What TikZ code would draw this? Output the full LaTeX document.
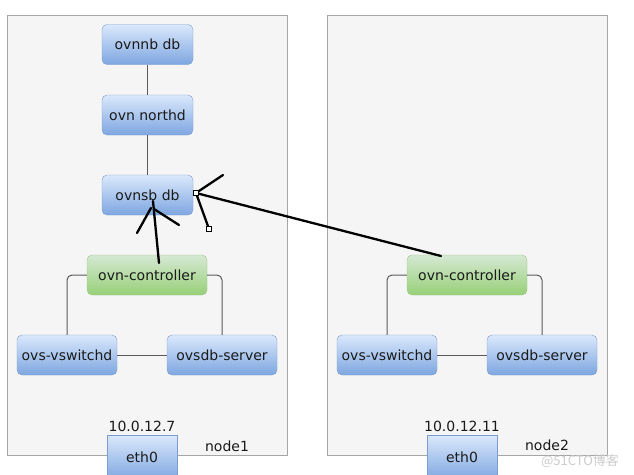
\documentclass[tikz,border=0pt]{standalone}
\usepackage{fontspec}
\setmainfont{DejaVu Sans}
\newfontfamily\cjk{Noto Sans CJK SC}
\definecolor{bTop}{HTML}{DAE8FC}
\definecolor{bBot}{HTML}{7EA6E0}
\definecolor{bLine}{HTML}{7A9CD0}
\definecolor{gTop}{HTML}{D5E8D4}
\definecolor{gBot}{HTML}{97D077}
\definecolor{gLine}{HTML}{9CC98A}
\definecolor{contFill}{HTML}{F5F5F5}
\definecolor{contLine}{HTML}{A6A6A6}
\definecolor{txt}{HTML}{1A1A1A}
\definecolor{wire}{HTML}{5A5A5A}
\begin{document}
\begin{tikzpicture}[x=1pt,y=-1pt,
  container/.style={draw=contLine,fill=contFill,line width=1pt,inner sep=0pt},
  bluebox/.style={draw=bLine,top color=bTop,bottom color=bBot,rounded corners=5pt,
     inner sep=0pt,minimum height=40pt,font=\fontsize{14}{16}\selectfont,text=txt},
  greenbox/.style={bluebox,draw=gLine,top color=gTop,bottom color=gBot},
  ethbox/.style={bluebox,rounded corners=0pt,minimum width=70pt},
  wirestyle/.style={draw=wire,line width=1pt,rounded corners=5pt},
  hand/.style={draw=black,line width=2.3pt,line cap=round},
  handle/.style={draw=black,fill=white,line width=0.6pt,inner sep=0pt,minimum size=5pt},
  lbl/.style={font=\fontsize{14}{16}\selectfont,text=txt,inner sep=0pt}]
\useasboundingbox (0,0) rectangle (634,474);
\fill[white] (0,0) rectangle (634,474);
\begin{scope}
\clip (0,0) rectangle (634,474);
% containers
\node[container,minimum width=280pt,minimum height=440pt] (c1) at (147,235) {};
\node[container,minimum width=280pt,minimum height=440pt] (c2) at (467,235) {};
% left node
\node[bluebox,minimum width=91pt] (nb) at (147.5,44.5) {ovnnb db};
\node[bluebox,minimum width=91pt] (northd) at (147.5,115) {ovn northd};
\node[bluebox,minimum width=91pt] (sb) at (147.5,195) {ovnsb db};
\node[greenbox,minimum width=120pt] (ctl1) at (147,275) {ovn-controller};
\node[bluebox,minimum width=100pt] (vs1) at (67,355) {ovs-vswitchd};
\node[bluebox,minimum width=110pt] (db1) at (222,355) {ovsdb-server};
\node[ethbox,minimum height=45pt,anchor=north] (eth1) at (142,435) {};
\node[lbl] at (142,457) {eth0};
\node[lbl,anchor=south] (ip1) at (142,432) {10.0.12.7};
\node[lbl] (name1) at (227,446) {node1};
% right node
\node[greenbox,minimum width=120pt] (ctl2) at (467,275) {ovn-controller};
\node[bluebox,minimum width=100pt] (vs2) at (387,355) {ovs-vswitchd};
\node[bluebox,minimum width=110pt] (db2) at (542,355) {ovsdb-server};
\node[ethbox,minimum height=45pt,anchor=north] (eth2) at (462,435) {};
\node[lbl] at (462,457) {eth0};
\node[lbl,anchor=south] (ip2) at (462,432) {10.0.12.11};
\node[lbl] (name2) at (547,445) {node2};
% wires
\draw[wirestyle] (nb) -- (northd);
\draw[wirestyle] (northd) -- (sb);
\draw[wirestyle] (ctl1.west) -| (vs1.north);
\draw[wirestyle] (ctl1.east) -| (db1.north);
\draw[wirestyle] (vs1) -- (db1);
\draw[wirestyle] (ctl2.west) -| (vs2.north);
\draw[wirestyle] (ctl2.east) -| (db2.north);
\draw[wirestyle] (vs2) -- (db2);
% hand-drawn arrows
\coordinate (a1s) at (159,263);
\coordinate (a1t) at (153,201);
\coordinate (a1l) at (137,233);
\coordinate (a1r) at (179,225);
\draw[hand] (a1s) -- (a1t);
\draw[hand] (151,208) -- (a1l);
\draw[hand] (154,209) -- (a1r);
\coordinate (a2s) at (441,256);
\coordinate (a2t) at (196,193);
\coordinate (a2u) at (223,175);
\coordinate (a2d) at (209,229);
\draw[hand] (a2s) -- (a2t);
\draw[hand] (a2t) -- (a2u);
\draw[hand] (a2t) -- (a2d);
\node[handle] (h1) at (a2t) {};
\node[handle] (h2) at (a2d) {};
% watermark
\node[font=\cjk\fontsize{13}{15}\selectfont,text=black!20,inner sep=0pt] (wm) at (580,461) {@51CTO博客};
\end{scope}
\end{tikzpicture}
\end{document}
